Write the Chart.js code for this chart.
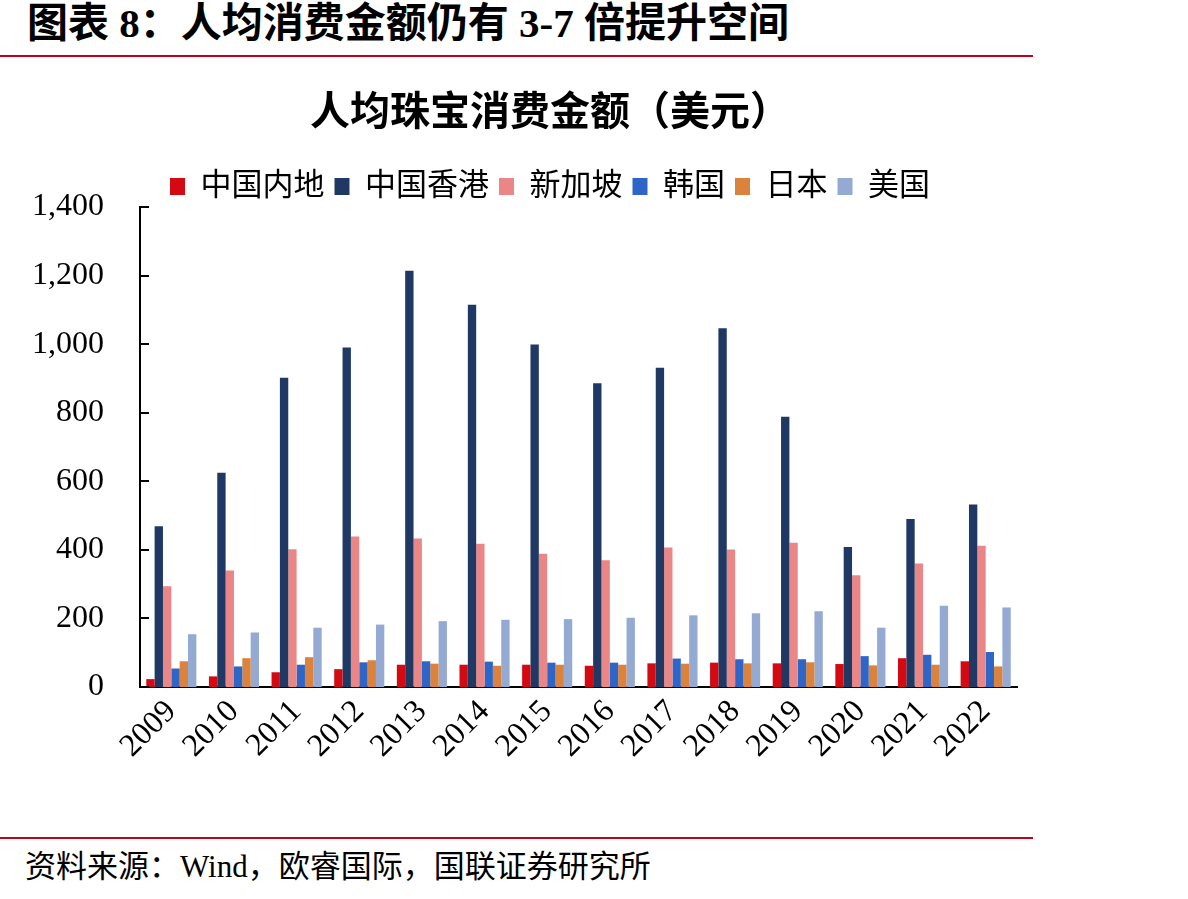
<!DOCTYPE html>
<html>
<head>
<meta charset="utf-8">
<script src="https://cdn.jsdelivr.net/npm/chart.js@4"></script>
<style>
  html, body { margin: 0; padding: 0; background: #ffffff; }
  body { width: 1188px; height: 899px; position: relative; overflow: hidden; }
  #hdr { position: absolute; left: 27px; top: 0px; height: 47px; line-height: 47px;
         font-family: "Liberation Serif", "Noto Sans CJK SC", serif; font-weight: bold; font-size: 41px; color: #000; white-space: nowrap; }
  .rule { position: absolute; left: 0; width: 1033px; height: 2px; background: #C0001C; }
  #src { position: absolute; left: 25px; top: 849px; height: 36px; line-height: 36px;
         font-family: "Liberation Serif", "Noto Sans CJK SC", serif; font-size: 31px; color: #000; white-space: nowrap; }
  #wrap { position: absolute; left: 0; top: 60px; width: 1100px; height: 770px; }
</style>
</head>
<body>
<div id="hdr">图表 8：人均消费金额仍有 3-7 倍提升空间</div>
<div class="rule" style="top:55px;"></div>
<div id="wrap"><canvas id="c" width="1100" height="770"></canvas></div>
<div class="rule" style="top:837px;"></div>
<div id="src">资料来源：Wind，欧睿国际，国联证券研究所</div>
<script>
const years = ['2009','2010','2011','2012','2013','2014','2015','2016','2017','2018','2019','2020','2021','2022'];
const seriesNames = ['中国内地','中国香港','新加坡','韩国','日本','美国'];
const mainland  = [23, 31, 43, 52, 65, 65, 65, 62, 69, 71, 69, 67, 84, 75];
const hongkong  = [469, 625, 902, 990, 1214, 1115, 999, 886, 931, 1046, 788, 408, 490, 532];
const singapore = [294, 340, 402, 439, 433, 418, 389, 370, 407, 401, 421, 326, 360, 412];
const korea     = [54, 60, 65, 72, 75, 74, 71, 71, 83, 81, 81, 90, 94, 102];
const japan     = [75, 84, 87, 78, 68, 62, 65, 65, 68, 69, 72, 63, 65, 60];
const usa       = [154, 159, 173, 182, 192, 196, 198, 202, 209, 215, 221, 173, 237, 232];
const chartTitle = '人均珠宝消费金额（美元）';
const yMin = 0, yMax = 1400, yStep = 200;

const colors = ['#D40A12', '#1F3864', '#EB8686', '#2E66C8', '#DB823C', '#95AAD2'];
const values = [mainland, hongkong, singapore, korea, japan, usa];

const serif = '"Liberation Serif", "Noto Sans CJK SC", serif';

const innerTicks = {
  id: 'innerTicks',
  afterDraw(chart) {
    const y = chart.scales.y;
    const ctx = chart.ctx;
    const left = chart.chartArea.left;
    ctx.save();
    ctx.strokeStyle = '#000';
    ctx.lineWidth = 2;
    y.ticks.forEach((t, i) => {
      const py = Math.round(y.getPixelForTick(i));
      ctx.beginPath();
      ctx.moveTo(left, py);
      ctx.lineTo(left + 9, py);
      ctx.stroke();
    });
    ctx.restore();
  }
};

new Chart(document.getElementById('c'), {
  type: 'bar',
  data: {
    labels: years,
    datasets: seriesNames.map((n, i) => ({
      label: n,
      data: values[i],
      backgroundColor: colors[i],
      borderWidth: 0,
      categoryPercentage: 0.8,
      barPercentage: 1.0,
      yAxisID: 'y'
    }))
  },
  options: {
    responsive: false,
    devicePixelRatio: 1,
    animation: false,
    layout: { padding: { left: 0, right: 0, top: 0, bottom: 0 } },
    plugins: {
      title: {
        display: true,
        text: chartTitle,
        color: '#000',
        font: { family: serif, size: 40, weight: 'bold', lineHeight: 1.2 },
        padding: { top: 31, bottom: 22 }
      },
      legend: {
        display: true,
        position: 'top',
        maxHeight: 46,
        labels: {
          color: '#000',
          font: { family: serif, size: 31 },
          boxWidth: 15,
          boxHeight: 17,
          padding: 10
        }
      },
      tooltip: { enabled: false }
    },
    scales: {
      x: {
        grid: { display: false, drawTicks: false },
        border: { display: true, color: '#000', width: 2 },
        ticks: {
          color: '#000',
          font: { family: serif, size: 32 },
          minRotation: 45,
          maxRotation: 45,
          padding: 6,
          autoSkip: false
        },
        afterFit(scale) { scale.height = 143; }
      },
      y: {
        position: 'left',
        min: yMin,
        max: yMax,
        grid: { display: false, drawTicks: false },
        border: { display: true, color: '#000', width: 2 },
        ticks: {
          stepSize: yStep,
          color: '#000',
          font: { family: serif, size: 32 },
          padding: 36,
          callback: (v) => v.toLocaleString('en-US')
        },
        afterFit(scale) { scale.width = 140; }
      },
      yRight: {
        type: 'linear',
        position: 'right',
        display: true,
        grid: { display: false, drawTicks: false },
        border: { display: false },
        ticks: { display: false },
        afterFit(scale) { scale.width = 83; }
      }
    }
  },
  plugins: [innerTicks]
});
</script>
</body>
</html>
